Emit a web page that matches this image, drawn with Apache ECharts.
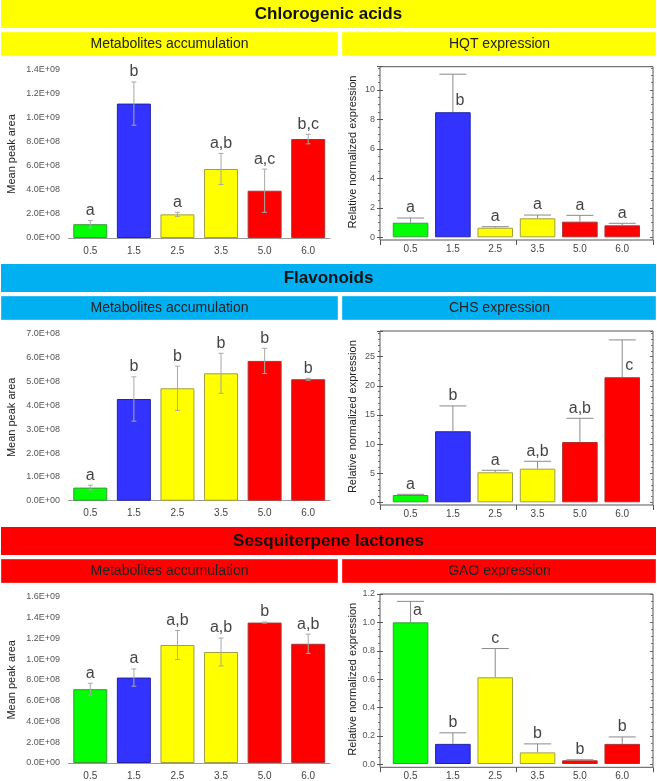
<!DOCTYPE html>
<html>
<head>
<meta charset="utf-8">
<script src="https://cdn.jsdelivr.net/npm/echarts@6/dist/echarts.min.js"></script>
<style>html,body{margin:0;padding:0;background:#fff;}#c{width:657px;height:781px;}</style>
</head>
<body>
<div id="c"></div>
<script>
// ---------- DATA ----------
const categories = ['0.5', '1.5', '2.5', '3.5', '5.0', '6.0'];

const chlorMean = [1.15e8, 1.12e9, 1.97e8, 5.75e8, 3.94e8, 8.25e8];
const chlorErr = [0.30e8, 1.80e8, 0.17e8, 1.30e8, 1.80e8, 0.40e8];
const chlorLetters = ['a', 'b', 'a', 'a,b', 'a,c', 'b,c'];

const hqtMean = [0.99, 8.49, 0.65, 1.29, 1.06, 0.81];
const hqtErr = [0.32, 2.58, 0.07, 0.22, 0.43, 0.14];
const hqtLetters = ['a', 'b', 'a', 'a', 'a', 'a'];

const flavMean = [0.55e8, 4.27e8, 4.72e8, 5.35e8, 5.87e8, 5.10e8];
const flavErr = [0.10e8, 0.93e8, 0.93e8, 0.84e8, 0.53e8, 0.04e8];
const flavLetters = ['a', 'b', 'b', 'b', 'b', 'b'];

const chsMean = [1.25, 12.19, 5.15, 5.77, 10.35, 21.46];
const chsErr = [0.12, 4.35, 0.34, 1.27, 4.07, 6.41];
const chsLetters = ['a', 'b', 'a', 'a,b', 'a,b', 'c'];

const sesqMean = [0.71e9, 0.822e9, 1.135e9, 1.068e9, 1.351e9, 1.147e9];
const sesqErr = [0.057e9, 0.083e9, 0.14e9, 0.134e9, 0.005e9, 0.093e9];
const sesqLetters = ['a', 'a', 'a,b', 'a,b', 'b', 'a,b'];

const gaoMean = [1.0, 0.142, 0.612, 0.082, 0.026, 0.142];
const gaoErr = [0.148, 0.078, 0.203, 0.06, 0.004, 0.049];
const gaoLetters = ['a', 'b', 'c', 'b', 'b', 'b'];

const groupTitles = ['Chlorogenic acids', 'Flavonoids', 'Sesquiterpene lactones'];
const leftSubTitle = 'Metabolites accumulation';
const rightSubTitles = ['HQT expression', 'CHS expression', 'GAO expression'];
const leftAxisName = 'Mean peak area';
const rightAxisName = 'Relative normalized expression';

// ---------- STYLE ----------
const FONT = "'Liberation Sans', Arial, Helvetica, sans-serif";
const barColors = ['#00FF00', '#3333FF', '#FFFF00', '#FFFF00', '#FF0000', '#FF0000'];
const barBorders = ['#3a9a3a', '#2222a0', '#a0a040', '#b03030', '#b03030', '#b03030'];
barBorders[3] = '#a0a040';
const headerColors = ['#FFFF00', '#00B0F0', '#FF0000'];
const headerY = [0, 264, 527];

function sci(v) {
  if (v === 0) return '0.0E+00';
  const e = Math.floor(Math.log10(v) + 1e-9);
  const m = v / Math.pow(10, e);
  return m.toFixed(1) + 'E+' + String(e).padStart(2, '0');
}

const grids = [], xAxes = [], yAxes = [], series = [];

function errRender(capHalf, both, color) {
  return function (params, api) {
    const x = api.value(0);
    const a = api.coord([x, api.value(1)]);
    const b = api.coord([x, api.value(2)]);
    const st = { stroke: color, lineWidth: 1 };
    const ch = [
      { type: 'line', shape: { x1: a[0], y1: a[1], x2: b[0], y2: b[1] }, style: st },
      { type: 'line', shape: { x1: b[0] - capHalf, y1: b[1], x2: b[0] + capHalf, y2: b[1] }, style: st }
    ];
    if (both) ch.push({ type: 'line', shape: { x1: a[0] - capHalf, y1: a[1], x2: a[0] + capHalf, y2: a[1] }, style: st });
    return { type: 'group', children: ch };
  };
}

function barSeries(xi, yi, mean, gap) {
  return {
    type: 'bar', xAxisIndex: xi, yAxisIndex: yi, barCategoryGap: gap,
    data: mean.map((v, i) => ({ value: v, itemStyle: { color: barColors[i], borderColor: barBorders[i], borderWidth: 1 } })),
    silent: true, z: 2
  };
}

function letterSeries(xi, yi, mean, err, letters, insideFn) {
  return {
    type: 'scatter', xAxisIndex: xi, yAxisIndex: yi, symbolSize: 0, silent: true, z: 5,
    label: { show: true, position: 'top', formatter: '{b}', fontSize: 16, color: '#111', fontFamily: FONT },
    data: letters.map((t, i) => {
      const inside = insideFn ? insideFn(mean[i] + err[i]) : false;
      if (inside) return { name: t, value: [i, mean[i]], label: { offset: [7, 0], distance: 4 } };
      return { name: t, value: [i, mean[i] + err[i]], label: { distance: 2 } };
    })
  };
}

function addLeft(p) {
  const gi = grids.length;
  grids.push({ left: 68.5, width: 261.5, top: p.top, height: p.zero - p.top });
  xAxes.push({
    gridIndex: gi, type: 'category', data: categories,
    axisLine: { lineStyle: { color: '#999', width: 1 } }, axisTick: { show: false },
    axisLabel: { fontSize: 10, color: '#444', margin: 8, fontFamily: FONT }
  });
  const xi = xAxes.length - 1;
  yAxes.push({
    gridIndex: gi, type: 'value', min: 0, max: p.max, interval: p.interval,
    axisLine: { show: false }, axisTick: { show: false }, splitLine: { show: false },
    axisLabel: { formatter: sci, fontSize: 9, color: '#555', margin: 8.5, fontFamily: FONT },
    name: leftAxisName, nameLocation: 'middle', nameGap: 51,
    nameTextStyle: { fontSize: 11, color: '#222', fontFamily: FONT }
  });
  const yi = yAxes.length - 1;
  series.push(barSeries(xi, yi, p.mean, '22%'));
  series.push({
    type: 'custom', xAxisIndex: xi, yAxisIndex: yi, silent: true, z: 4,
    renderItem: errRender(2.5, true, '#a8a8a8'),
    encode: { x: 0, y: [1, 2] },
    data: p.mean.map((m, i) => [i, m - p.err[i], m + p.err[i]])
  });
  series.push(letterSeries(xi, yi, p.mean, p.err, p.letters, null));
}

function addRight(p) {
  const h = p.zero - p.top;
  const pxPerUnit = h / p.max;
  // frame
  let gi = grids.length;
  grids.push({ left: 380, width: 273, top: p.top, height: p.fb - p.top, show: true, borderColor: '#555', borderWidth: 1, backgroundColor: 'transparent' });
  xAxes.push({
    gridIndex: gi, type: 'category', data: ['', ''], boundaryGap: true,
    axisLine: { show: false }, axisLabel: { show: false },
    axisTick: { show: true, length: 5, inside: false, lineStyle: { color: '#555' } }
  });
  yAxes.push({ gridIndex: gi, type: 'value', show: false, min: 0, max: 1 });

  // labels / ticks
  gi = grids.length;
  grids.push({ left: 380, width: 273, top: p.top, height: h });
  xAxes.push({ gridIndex: gi, type: 'category', data: categories, show: false });
  const fmt = (v) => {
    const r = v / p.interval;
    if (Math.abs(r - Math.round(r)) > 1e-6) return '';
    return v.toFixed(p.dec);
  };
  yAxes.push({
    gridIndex: gi, type: 'value', min: 0, max: p.max, interval: p.interval, position: 'left',
    axisLine: { show: false }, splitLine: { show: false },
    axisTick: { show: true, length: 3, inside: false, lineStyle: { color: '#555' } },
    minorTick: { show: true, splitNumber: p.minor, length: 2, lineStyle: { color: '#666' } },
    axisLabel: { formatter: fmt, fontSize: 9, color: '#555', margin: 5, fontFamily: FONT, showMaxLabel: true },
    name: rightAxisName, nameLocation: 'middle', nameGap: 21.5,
    nameTextStyle: { fontSize: 11, color: '#222', fontFamily: FONT }
  });
  yAxes.push({
    gridIndex: gi, type: 'value', min: 0, max: p.max, interval: p.interval, position: 'left',
    axisLine: { show: false }, splitLine: { show: false }, axisLabel: { show: false },
    axisTick: { show: true, length: 3, inside: true, lineStyle: { color: '#555' } }
  });
  yAxes.push({
    gridIndex: gi, type: 'value', min: 0, max: p.max, interval: p.interval, position: 'right',
    axisLine: { show: false }, splitLine: { show: false }, axisLabel: { show: false },
    axisTick: { show: true, length: 3, inside: true, lineStyle: { color: '#666' } },
    minorTick: { show: true, splitNumber: p.minor, length: 2, lineStyle: { color: '#777' } }
  });

  // bars
  gi = grids.length;
  grids.push({ left: 389.4, width: 254, top: p.top, height: h });
  xAxes.push({
    gridIndex: gi, type: 'category', data: categories,
    axisLine: { show: false }, axisTick: { show: false },
    axisLabel: { fontSize: 10, color: '#444', margin: 7, fontFamily: FONT }
  });
  const xi = xAxes.length - 1;
  yAxes.push({ gridIndex: gi, type: 'value', min: 0, max: p.max, show: false, splitLine: { show: false } });
  const yi = yAxes.length - 1;
  series.push(barSeries(xi, yi, p.mean, '16%'));
  series.push({
    type: 'custom', xAxisIndex: xi, yAxisIndex: yi, silent: true, z: 4,
    renderItem: errRender(13.5, false, '#8a8a8a'),
    encode: { x: 0, y: [1, 2] },
    data: p.mean.map((m, i) => [i, m, m + p.err[i]])
  });
  const insideFn = (top) => (p.max - top) * pxPerUnit < 20;
  series.push(letterSeries(xi, yi, p.mean, p.err, p.letters, insideFn));
}

addLeft({ top: 70, zero: 238, max: 1.4e9, interval: 2e8, mean: chlorMean, err: chlorErr, letters: chlorLetters });
addLeft({ top: 334, zero: 500.7, max: 7e8, interval: 1e8, mean: flavMean, err: flavErr, letters: flavLetters });
addLeft({ top: 596.7, zero: 764, max: 1.6e9, interval: 2e8, mean: sesqMean, err: sesqErr, letters: sesqLetters });

addRight({ top: 66.7, zero: 237.3, fb: 240, max: 11.58, interval: 2, dec: 0, minor: 4, mean: hqtMean, err: hqtErr, letters: hqtLetters });
addRight({ top: 331, zero: 502.3, fb: 505, max: 29.4, interval: 5, dec: 0, minor: 5, mean: chsMean, err: chsErr, letters: chsLetters });
addRight({ top: 594, zero: 764.4, fb: 767.3, max: 1.2, interval: 0.2, dec: 1, minor: 4, mean: gaoMean, err: gaoErr, letters: gaoLetters });

// headers
const graphics = [];
headerY.forEach((y, r) => {
  graphics.push({ type: 'rect', shape: { x: 1, y: y, width: 655, height: 28 }, style: { fill: headerColors[r] }, silent: true });
  graphics.push({ type: 'text', x: 328.5, y: y + 14, style: { text: groupTitles[r], font: 'bold 17px ' + FONT, fill: '#111', align: 'center', verticalAlign: 'middle' }, silent: true });
  graphics.push({ type: 'rect', shape: { x: 1, y: y + 32, width: 337, height: 24 }, style: { fill: headerColors[r], stroke: 'rgba(255,255,255,0.35)', lineWidth: 1 }, silent: true });
  graphics.push({ type: 'rect', shape: { x: 342, y: y + 32, width: 314, height: 24 }, style: { fill: headerColors[r], stroke: 'rgba(255,255,255,0.35)', lineWidth: 1 }, silent: true });
  graphics.push({ type: 'text', x: 169.5, y: y + 44, style: { text: leftSubTitle, font: '14px ' + FONT, fill: '#222', align: 'center', verticalAlign: 'middle' }, silent: true });
  graphics.push({ type: 'text', x: 499.5, y: y + 44, style: { text: rightSubTitles[r], font: '14px ' + FONT, fill: '#222', align: 'center', verticalAlign: 'middle' }, silent: true });
});

const chart = echarts.init(document.getElementById('c'), null, { renderer: 'canvas' });
chart.setOption({
  backgroundColor: '#fff',
  animation: false,
  textStyle: { fontFamily: FONT },
  grid: grids,
  xAxis: xAxes,
  yAxis: yAxes,
  series: series,
  graphic: graphics
});
</script>
</body>
</html>
